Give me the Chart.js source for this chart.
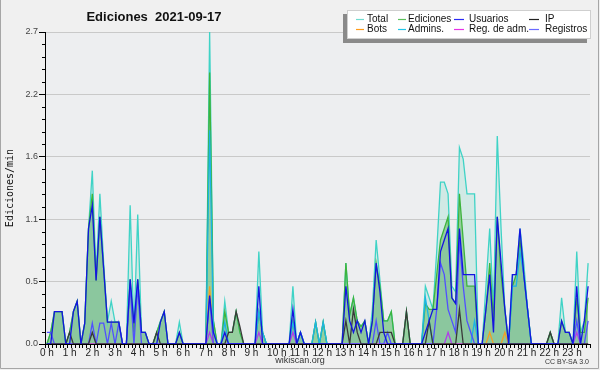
<!DOCTYPE html>
<html>
<head>
<meta charset="utf-8">
<script src="https://cdn.jsdelivr.net/npm/chart.js@4.4.1/dist/chart.umd.min.js"></script>
<style>
  html, body { margin: 0; padding: 0; background: #f0f0f0; }
  canvas { display: block; }
</style>
</head>
<body>
<canvas id="chart" width="600" height="370"></canvas>
<script>
// one value per 10 minutes, 144 bins (index 0 = 00:00), edits per minute
const total = [
  0, 0.1, 0.28, 0.28, 0.28, 0,  0.1, 0.28, 0.37, 0, 0.18, 1.0,  1.5, 0.6, 1.3, 0.7, 0.19, 0.37,  0.19, 0.19, 0, 0, 1.2, 0.1,  1.12, 0.1, 0.1, 0, 0, 0.1,  0.2, 0.28, 0, 0, 0, 0.19,
  0, 0, 0, 0, 0, 0,  0, 2.7, 0.2, 0, 0, 0.37,  0.1, 0.1, 0.28, 0.1, 0, 0,  0, 0, 0.8, 0.1, 0, 0,  0, 0, 0, 0, 0, 0.5,  0, 0.1, 0, 0, 0, 0.19,
  0, 0.19, 0, 0, 0, 0,  0, 0.7, 0.25, 0.4, 0.2, 0.15,  0.2, 0, 0.3, 0.9, 0.55, 0.2,  0.2, 0.28, 0, 0, 0, 0.28,  0, 0, 0, 0, 0.5, 0.4,  0.3, 0.8, 1.4, 1.4, 1.3, 0.5,
  0.45, 1.7, 1.6, 1.3, 1.3, 1.3,  0, 0, 0.5, 1.0, 0.3, 1.8,  1.0, 0.3, 0, 0.6, 0.6, 1.0,  0.7, 0.3, 0, 0, 0, 0,  0, 0.1, 0, 0, 0.4, 0.1,  0.1, 0, 0.8, 0.1, 0.2, 0.7
];
const ediciones = [
  0, 0.1, 0.28, 0.28, 0.28, 0,  0.1, 0.28, 0.37, 0, 0.18, 1.0,  1.3, 0.55, 1.1, 0.65, 0.19, 0.19,  0.19, 0.19, 0, 0, 0.56, 0.1,  0.56, 0.1, 0.1, 0, 0, 0.1,  0.19, 0.28, 0, 0, 0, 0.1,
  0, 0, 0, 0, 0, 0,  0, 2.35, 0.2, 0, 0, 0.28,  0.1, 0.1, 0.28, 0.1, 0, 0,  0, 0, 0.28, 0.1, 0, 0,  0, 0, 0, 0, 0, 0.2,  0, 0.1, 0, 0, 0, 0.19,
  0, 0.19, 0, 0, 0, 0,  0, 0.7, 0.25, 0.4, 0.2, 0.15,  0.2, 0, 0.2, 0.7, 0.5, 0.2,  0.2, 0.28, 0, 0, 0, 0.28,  0, 0, 0, 0, 0.35, 0.3,  0.3, 0.6, 0.9, 1.0, 1.1, 0.4,
  0.35, 1.3, 0.9, 0.5, 0.5, 0.5,  0, 0, 0.3, 0.7, 0.2, 1.1,  0.6, 0.3, 0, 0.5, 0.6, 0.9,  0.6, 0.3, 0, 0, 0, 0,  0, 0.1, 0, 0, 0.2, 0.1,  0.1, 0, 0.4, 0.1, 0.1, 0.4
];
const usuarios = [
  0, 0, 0.28, 0.28, 0.28, 0,  0, 0.28, 0.37, 0, 0.18, 1.0,  1.2, 0.55, 1.1, 0.65, 0.19, 0.19,  0.19, 0.19, 0, 0, 0.56, 0.18,  0.56, 0.1, 0.1, 0, 0, 0,  0.19, 0.28, 0, 0, 0, 0.1,
  0, 0, 0, 0, 0, 0,  0, 0.42, 0.1, 0, 0, 0.1,  0, 0, 0, 0, 0, 0,  0, 0, 0.5, 0, 0, 0,  0, 0, 0, 0, 0, 0.3,  0, 0.1, 0, 0, 0, 0,
  0, 0, 0, 0, 0, 0,  0, 0.5, 0.2, 0.1, 0.2, 0.1,  0.2, 0, 0.2, 0.7, 0.45, 0.1,  0, 0, 0, 0, 0, 0,  0, 0, 0, 0, 0.1, 0.2,  0.3, 0.3, 0.8, 0.9, 1.0, 0.4,
  0.35, 1.0, 0.6, 0.6, 0.6, 0.6,  0, 0, 0.3, 0.6, 0.1, 1.1,  0.7, 0.3, 0, 0.6, 0.6, 1.0,  0.6, 0.3, 0, 0, 0, 0,  0, 0, 0, 0, 0.2, 0.1,  0.1, 0, 0.5, 0, 0.2, 0.5
];
const ip = [
  0, 0, 0, 0, 0, 0,  0.1, 0, 0, 0, 0, 0,  0.1, 0, 0, 0, 0, 0,  0, 0, 0, 0, 0, 0,  0, 0, 0, 0, 0, 0.1,  0, 0, 0, 0, 0, 0,
  0, 0, 0, 0, 0, 0,  0, 0, 0, 0, 0, 0,  0.1, 0.1, 0.28, 0.15, 0, 0,  0, 0, 0, 0, 0, 0,  0, 0, 0, 0, 0, 0,  0, 0, 0, 0, 0, 0,
  0, 0, 0, 0, 0, 0,  0, 0.2, 0, 0.3, 0.1, 0,  0, 0, 0, 0, 0.1, 0.1,  0.1, 0.1, 0, 0, 0, 0.28,  0, 0, 0, 0, 0, 0.2,  0, 0, 0, 0, 0, 0,
  0, 0.3, 0, 0, 0, 0,  0, 0, 0, 0, 0, 0,  0, 0, 0, 0, 0, 0,  0, 0, 0, 0, 0, 0,  0, 0.1, 0, 0, 0, 0,  0, 0, 0, 0, 0, 0
];
const bots = [
  0, 0, 0, 0, 0, 0,  0, 0, 0, 0, 0, 0,  0, 0, 0, 0, 0, 0,  0, 0, 0, 0, 0, 0,  0, 0, 0, 0, 0, 0,  0, 0, 0, 0, 0, 0,
  0, 0, 0, 0, 0, 0,  0, 0.5, 0, 0, 0, 0,  0, 0, 0, 0, 0, 0,  0, 0, 0, 0, 0, 0,  0, 0, 0, 0, 0, 0,  0, 0, 0, 0, 0, 0,
  0, 0, 0, 0, 0, 0,  0, 0, 0, 0, 0, 0,  0, 0, 0, 0, 0, 0,  0, 0, 0, 0, 0, 0,  0, 0, 0, 0, 0, 0,  0, 0, 0, 0, 0, 0,
  0, 0, 0, 0, 0, 0,  0, 0, 0, 0.1, 0, 0,  0, 0.1, 0, 0, 0, 0,  0, 0, 0, 0, 0, 0,  0, 0, 0, 0, 0, 0,  0, 0, 0, 0, 0, 0
];
const admins = [
  0, 0, 0, 0, 0, 0,  0, 0, 0, 0, 0, 0,  0, 0, 0, 0, 0, 0,  0, 0, 0, 0, 0, 0,  0, 0, 0, 0, 0, 0,  0, 0, 0, 0, 0, 0,
  0, 0, 0, 0, 0, 0,  0, 1.85, 0.1, 0, 0, 0.19,  0, 0, 0, 0, 0, 0,  0, 0, 0.28, 0.1, 0, 0,  0, 0, 0, 0, 0, 0.19,  0, 0.1, 0, 0, 0, 0.19,
  0, 0.19, 0, 0, 0, 0,  0, 0, 0, 0, 0, 0,  0, 0, 0, 0, 0, 0,  0, 0, 0, 0, 0, 0,  0, 0, 0, 0, 0.4, 0.2,  0, 0, 0, 0, 0, 0,
  0, 0, 0, 0, 0, 0.2,  0, 0, 0, 0, 0, 0,  0, 0, 0, 0.5, 0.5, 0.8,  0.6, 0.3, 0, 0, 0, 0,  0, 0, 0, 0, 0, 0,  0, 0, 0, 0, 0, 0
];
const regAdm = [
  0, 0, 0, 0, 0, 0,  0, 0, 0, 0, 0, 0,  0, 0, 0, 0, 0, 0,  0, 0, 0, 0, 0, 0,  0, 0, 0, 0, 0, 0,  0, 0, 0, 0, 0, 0,
  0, 0, 0, 0, 0, 0,  0, 0.1, 0, 0, 0, 0,  0, 0, 0, 0, 0, 0,  0, 0, 0.1, 0, 0, 0,  0, 0, 0, 0, 0, 0.1,  0, 0, 0, 0, 0, 0,
  0, 0, 0, 0, 0, 0,  0, 0, 0, 0, 0, 0,  0, 0, 0, 0, 0, 0,  0, 0, 0, 0, 0, 0,  0, 0, 0, 0, 0, 0,  0, 0, 0, 0, 0.1, 0,
  0, 0, 0, 0, 0, 0,  0, 0, 0, 0, 0, 0,  0, 0, 0, 0, 0, 0,  0, 0, 0, 0, 0, 0,  0, 0, 0, 0, 0, 0,  0, 0, 0.1, 0, 0, 0
];
const registros = [
  0.1, 0.1, 0, 0, 0, 0,  0, 0, 0, 0, 0, 0,  0.18, 0, 0.18, 0.18, 0, 0.18,  0, 0.18, 0, 0, 0.5, 0,  0.5, 0, 0, 0, 0, 0,  0, 0, 0, 0, 0, 0,
  0, 0, 0, 0, 0, 0,  0, 0.4, 0, 0, 0, 0,  0, 0, 0, 0, 0, 0,  0, 0, 0, 0, 0, 0,  0, 0, 0, 0, 0, 0,  0, 0, 0, 0, 0, 0,
  0, 0, 0, 0, 0, 0,  0, 0, 0, 0, 0, 0,  0, 0, 0, 0.2, 0, 0,  0.1, 0, 0, 0, 0, 0,  0, 0, 0, 0, 0, 0,  0, 0.3, 0.7, 0.6, 0.3, 0.2,
  0.1, 0.9, 0.5, 0.2, 0.1, 0,  0, 0, 0, 0, 0, 0,  0, 0, 0, 0, 0, 0,  0, 0, 0, 0, 0, 0,  0, 0, 0, 0, 0, 0,  0, 0, 0.2, 0, 0, 0.2
];

const hourLabels = ['0 h', '1 h', '2 h', '3 h', '4 h', '5 h', '6 h', '7 h', '8 h', '9 h', '10 h', '11 h',
  '12 h', '13 h', '14 h', '15 h', '16 h', '17 h', '18 h', '19 h', '20 h', '21 h', '22 h', '23 h'];
const yTicks = [0, 0.54, 1.08, 1.62, 2.16, 2.7];

const legendLabels = [['Total', 'Ediciones', 'Usuarios', 'IP'], ['Bots', 'Admins.', 'Reg. de adm.', 'Registros']];
const legendColors = [['#6fdcd0', '#5cc05c', '#2a2af5', '#222222'], ['#ff9c1a', '#22c6ea', '#e632e6', '#6a6aff']];

const pts = arr => arr.map((v, i) => ({ x: i, y: v }));

function lineSet(label, arr, color, order) {
  return { label, data: pts(arr), borderColor: color, borderWidth: 1.3, fill: false, order };
}
function fillSet(arr, color, order) {
  return { label: '', data: pts(arr), borderWidth: 0, borderColor: 'transparent', backgroundColor: color, fill: 'origin', order };
}

const bgPlugin = {
  id: 'bg',
  beforeDraw(chart) {
    const { ctx, chartArea: a } = chart;
    ctx.save();
    ctx.fillStyle = '#f0f0f0';
    ctx.fillRect(0, 0, chart.width, chart.height);
    ctx.fillStyle = '#edeef0';
    ctx.fillRect(a.left, a.top, a.right - a.left, a.bottom - a.top);
    ctx.restore();
  }
};

const decorPlugin = {
  id: 'decor',
  afterDraw(chart) {
    const { ctx, chartArea: a } = chart;
    const ys = chart.scales.y;
    ctx.save();
    // minor y ticks
    ctx.strokeStyle = '#000';
    ctx.lineWidth = 1;
    for (let j = 1; j < 25; j++) {
      if (j % 5 === 0) continue;
      const y = Math.round(ys.getPixelForValue(j * 0.108)) + 0.5;
      ctx.beginPath();
      ctx.moveTo(a.left - 3, y);
      ctx.lineTo(a.left, y);
      ctx.stroke();
    }
    // title
    ctx.fillStyle = '#111';
    ctx.font = 'bold 13px "Liberation Sans"';
    ctx.textAlign = 'center';
    ctx.textBaseline = 'middle';
    ctx.fillText('Ediciones  2021-09-17', 154, 17);
    // legend box
    ctx.fillStyle = '#8a8a8a';
    ctx.fillRect(343, 14, 244, 29);
    ctx.fillStyle = '#fff';
    ctx.fillRect(347, 10, 244, 29);
    ctx.strokeStyle = '#cfcfcf';
    ctx.strokeRect(347.5, 10.5, 243, 28);
    const lineX = [356, 398, 454, 529];
    const lineW = [8, 8, 10, 10];
    const textX = [367, 408, 469, 545];
    const rowY = [19.5, 29.5];
    ctx.font = '10px "Liberation Sans"';
    ctx.textAlign = 'left';
    for (let r = 0; r < 2; r++) {
      for (let c = 0; c < 4; c++) {
        ctx.strokeStyle = legendColors[r][c];
        ctx.lineWidth = 1.2;
        ctx.beginPath();
        ctx.moveTo(lineX[c], rowY[r]);
        ctx.lineTo(lineX[c] + lineW[c], rowY[r]);
        ctx.stroke();
        ctx.fillStyle = '#111';
        ctx.fillText(legendLabels[r][c], textX[c], rowY[r]);
      }
    }
    // footer
    ctx.fillStyle = '#333';
    ctx.font = '9px "Liberation Sans"';
    ctx.textAlign = 'center';
    ctx.fillText('wikiscan.org', 300, 361);
    ctx.font = '7px "Liberation Sans"';
    ctx.textAlign = 'right';
    ctx.fillText('CC BY-SA 3.0', 589, 362);
    // frame
    ctx.strokeStyle = '#a6a6a6';
    ctx.lineWidth = 1;
    ctx.beginPath();
    ctx.moveTo(0.5, 0);
    ctx.lineTo(0.5, 368.5);
    ctx.lineTo(598.5, 368.5);
    ctx.lineTo(598.5, 0);
    ctx.stroke();
    ctx.restore();
  }
};

new Chart(document.getElementById('chart'), {
  type: 'line',
  data: {
    datasets: [
      fillSet(total, 'rgba(150,225,205,0.32)', 30),
      fillSet(usuarios, 'rgba(130,170,230,0.28)', 29),
      fillSet(ediciones, 'rgba(100,185,100,0.55)', 28),
      lineSet('Total', total, '#3fd3c6', 20),
      lineSet('Ediciones', ediciones, '#3db43d', 19),
      lineSet('Admins.', admins, '#1cb4e4', 18),
      lineSet('Bots', bots, '#f0a028', 17),
      lineSet('Reg. de adm.', regAdm, '#b040e8', 16),
      lineSet('Registros', registros, '#5050ff', 15),
      lineSet('IP', ip, '#3a3a3a', 14),
      lineSet('Usuarios', usuarios, '#1414e0', 13)
    ]
  },
  options: {
    responsive: false,
    animation: false,
    devicePixelRatio: 1,
    layout: { padding: { top: 32, right: 10, left: 0, bottom: 0 } },
    elements: { point: { radius: 0 }, line: { tension: 0 } },
    plugins: {
      legend: { display: false },
      tooltip: { enabled: false },
      filler: { drawTime: 'beforeDatasetsDraw' }
    },
    scales: {
      x: {
        type: 'linear',
        min: -0.5,
        max: 143.5,
        afterBuildTicks: scale => {
          scale.ticks = Array.from({ length: 145 }, (_, j) => ({ value: j - 0.5 }));
        },
        afterFit: scale => { scale.height = 26; },
        ticks: {
          autoSkip: false,
          maxRotation: 0,
          minRotation: 0,
          align: 'start',
          labelOffset: -5,
          padding: -1,
          color: '#222',
          font: { family: 'Liberation Sans', size: 10 },
          callback: v => {
            const j = Math.round(v + 0.5);
            return j % 6 === 0 && j / 6 < hourLabels.length ? hourLabels[j / 6] : '';
          }
        },
        grid: { drawOnChartArea: false, drawTicks: true, tickLength: 4, tickColor: '#000' },
        border: { color: '#000', width: 1 }
      },
      y: {
        min: 0,
        max: 2.7,
        afterBuildTicks: scale => { scale.ticks = yTicks.map(v => ({ value: v })); },
        afterFit: scale => { scale.width = 45; },
        ticks: {
          color: '#444',
          padding: 1,
          font: { family: 'Liberation Sans', size: 9 },
          callback: v => v.toFixed(1)
        },
        grid: {
          color: ctx => ctx.index === 0 ? 'transparent' : '#c9c9c9',
          tickColor: '#000',
          tickLength: 6
        },
        border: { color: '#000', width: 1 },
        title: {
          display: true,
          text: 'Ediciones/min',
          color: '#111',
          font: { family: 'DejaVu Sans Mono', size: 10 },
          padding: { top: 4, bottom: 0 }
        }
      }
    }
  },
  plugins: [bgPlugin, decorPlugin]
});
</script>
</body>
</html>
